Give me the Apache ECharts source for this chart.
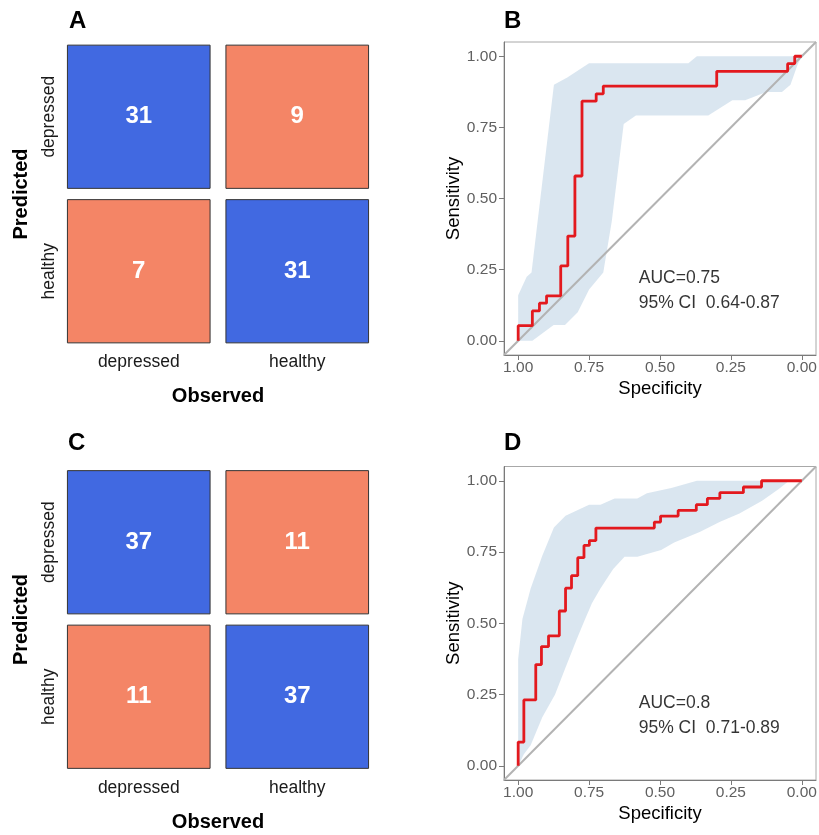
<!DOCTYPE html>
<html>
<head>
<meta charset="utf-8">
<script src="https://cdn.jsdelivr.net/npm/echarts@6/dist/echarts.min.js"></script>
<style>
html,body{margin:0;padding:0;background:#fff;}
#chart{width:819px;height:835px;}
</style>
</head>
<body>
<div id="chart"></div>
<script>
// ---------- data ----------
const classes = ['depressed', 'healthy'];
// [observedIndex, predictedIndex, count]
const cmA = [[0, 0, 31], [1, 0, 9], [0, 1, 7], [1, 1, 31]];
const cmC = [[0, 0, 37], [1, 0, 11], [0, 1, 11], [1, 1, 37]];

const rocTicks = [0, 0.25, 0.5, 0.75, 1];

// ROC step points [specificity, sensitivity]
const rocB = [[1, 0], [1, 0.053], [0.95, 0.105], [0.925, 0.132], [0.9, 0.158], [0.85, 0.263],
  [0.825, 0.368], [0.8, 0.579], [0.775, 0.842], [0.725, 0.868], [0.7, 0.895], [0.3, 0.947],
  [0.05, 0.974], [0.025, 1.0], [0, 1.0]];
const ciUpperB = [[1, 0.16], [0.97, 0.225], [0.953, 0.24], [0.874, 0.9], [0.827, 0.925],
  [0.75, 0.975], [0.4, 0.975], [0.37, 1.0], [0, 1.0]];
const ciLowerB = [[1, 0], [0.95, 0], [0.875, 0.055], [0.835, 0.055], [0.79, 0.10], [0.75, 0.18],
  [0.70, 0.24], [0.67, 0.42], [0.628, 0.762], [0.585, 0.792], [0.33, 0.792], [0.245, 0.845],
  [0.2, 0.845], [0.125, 0.874], [0.07, 0.874], [0.04, 0.9], [0.015, 0.97], [0, 1]];

const rocD = [[1, 0], [1, 0.083], [0.98, 0.231], [0.938, 0.355], [0.918, 0.418], [0.893, 0.456],
  [0.855, 0.543], [0.833, 0.623], [0.812, 0.667], [0.79, 0.73], [0.768, 0.773], [0.749, 0.79],
  [0.726, 0.834], [0.52, 0.855], [0.498, 0.876], [0.436, 0.896], [0.372, 0.916], [0.333, 0.938],
  [0.289, 0.958], [0.206, 0.978], [0.142, 1.0], [0, 1.0]];
const ciUpperD = [[1, 0.375], [0.985, 0.515], [0.956, 0.622], [0.915, 0.737], [0.874, 0.836],
  [0.833, 0.877], [0.75, 0.916], [0.71, 0.916], [0.66, 0.938], [0.58, 0.938], [0.546, 0.956],
  [0.46, 0.975], [0.37, 1.0], [0, 1.0]];
const ciLowerD = [[1, 0], [0.98, 0.04], [0.956, 0.072], [0.915, 0.17], [0.87, 0.25], [0.833, 0.345],
  [0.795, 0.44], [0.768, 0.505], [0.74, 0.57], [0.71, 0.622], [0.665, 0.69], [0.625, 0.733],
  [0.58, 0.733], [0.496, 0.757], [0.45, 0.783], [0.36, 0.82], [0.29, 0.855], [0.22, 0.885],
  [0.14, 0.93], [0.08, 0.972], [0.045, 1.0], [0, 1]];

const chanceLine = [[1.05, -0.05], [-0.05, 1.05]];
const aucB = ['AUC=0.75', '95% CI  0.64-0.87'];
const aucD = ['AUC=0.8', '95% CI  0.71-0.89'];
const aucPos = [[0.575, 0.221], [0.575, 0.131]];

// ---------- styling ----------
const FONT = 'Liberation Sans, Arial, sans-serif';
const BLUE = '#4169E1';
const ORANGE = '#F48566';
const RED = '#E3191E';
const BAND = 'rgba(70,130,180,0.2)';

const chart = echarts.init(document.getElementById('chart'), null, {renderer: 'canvas'});

function cmAxes(gridIndex) {
  return {
    x: {
      type: 'category', gridIndex, data: classes,
      axisLine: {show: false}, axisTick: {show: false},
      axisLabel: {color: '#1a1a1a', fontSize: 17.5, fontFamily: FONT, margin: 5},
      name: 'Observed', nameLocation: 'middle', nameGap: 38,
      nameTextStyle: {color: '#000', fontSize: 20, fontWeight: 'bold', fontFamily: FONT}
    },
    y: {
      type: 'category', gridIndex, data: classes, inverse: true,
      axisLine: {show: false}, axisTick: {show: false},
      axisLabel: {color: '#1a1a1a', fontSize: 17.5, fontFamily: FONT, rotate: 90, margin: 1},
      name: 'Predicted', nameLocation: 'middle', nameGap: 28, nameRotate: 90,
      nameTextStyle: {color: '#000', fontSize: 20, fontWeight: 'bold', fontFamily: FONT}
    }
  };
}

function rocAxes(gridIndex) {
  const lab = {color: '#606060', fontSize: 15.5, fontFamily: FONT, customValues: rocTicks,
    formatter: v => v.toFixed(2)};
  return {
    x: {
      type: 'value', gridIndex, min: -0.05, max: 1.05, inverse: true,
      splitLine: {show: false},
      axisLine: {show: true, onZero: false, lineStyle: {color: '#7a7a7a', width: 1}},
      axisTick: {show: true, length: 5, customValues: rocTicks, lineStyle: {color: '#7a7a7a'}},
      axisLabel: Object.assign({margin: 5}, lab),
      name: 'Specificity', nameLocation: 'middle', nameGap: 24,
      nameTextStyle: {color: '#000', fontSize: 18.5, fontFamily: FONT}
    },
    y: {
      type: 'value', gridIndex, min: -0.05, max: 1.05,
      splitLine: {show: false},
      axisLine: {show: true, onZero: false, lineStyle: {color: '#7a7a7a', width: 1}},
      axisTick: {show: true, length: 5, customValues: rocTicks, lineStyle: {color: '#7a7a7a'}},
      axisLabel: Object.assign({margin: 7}, lab),
      name: 'Sensitivity', nameLocation: 'middle', nameGap: 40,
      nameTextStyle: {color: '#000', fontSize: 18.5, fontFamily: FONT}
    }
  };
}

const axA = cmAxes(0), axB = rocAxes(1), axC = cmAxes(2), axD = rocAxes(3);

function tileSeries(data, idx) {
  return {
    type: 'custom', xAxisIndex: idx, yAxisIndex: idx, data,
    renderItem(params, api) {
      const c = api.coord([api.value(0), api.value(1)]);
      const s = api.size([1, 1]);
      const w = s[0] * 0.9, h = s[1] * 0.927;
      const correct = api.value(0) === api.value(1);
      return {
        type: 'group',
        children: [
          {type: 'rect', shape: {x: c[0] - w / 2, y: c[1] - h / 2, width: w, height: h},
            style: {fill: correct ? BLUE : ORANGE, stroke: '#333', lineWidth: 1}},
          {type: 'text', style: {text: String(api.value(2)), x: c[0], y: c[1],
            align: 'center', verticalAlign: 'middle', fill: '#fff',
            font: 'bold 24px ' + FONT}}
        ]
      };
    }
  };
}

function bandSeries(upper, lower, idx) {
  return {
    type: 'custom', xAxisIndex: idx, yAxisIndex: idx, data: [[0, 0]], silent: true, z: 1,
    renderItem(params, api) {
      const pts = upper.concat(lower.slice().reverse()).map(p => api.coord(p));
      return {type: 'polygon', shape: {points: pts}, style: {fill: BAND}};
    }
  };
}

function rocSeries(roc, upper, lower, auc, idx) {
  return [
    bandSeries(upper, lower, idx),
    {type: 'line', xAxisIndex: idx, yAxisIndex: idx, data: chanceLine, symbol: 'none', z: 2,
      lineStyle: {color: '#b3b3b3', width: 2}, silent: true},
    {type: 'line', xAxisIndex: idx, yAxisIndex: idx, data: roc, step: 'end', symbol: 'none', z: 3,
      lineStyle: {color: RED, width: 2.8}, silent: true},
    {type: 'scatter', xAxisIndex: idx, yAxisIndex: idx, symbolSize: 0, z: 4, silent: true,
      data: aucPos.map((p, i) => ({value: p, name: auc[i]})),
      label: {show: true, position: 'right', distance: 0, formatter: p => p.name,
        color: '#000', fontSize: 17.5, fontFamily: FONT}}
  ];
}

const option = {
  animation: false,
  backgroundColor: '#fff',
  grid: [
    {left: 59.5, top: 39.5, width: 317, height: 309, outerBoundsMode: 'none'},
    {left: 504, top: 42, width: 312, height: 313, show: true, borderColor: '#a8a8a8', borderWidth: 1, backgroundColor: 'transparent', outerBoundsMode: 'none'},
    {left: 59.5, top: 465, width: 317, height: 309, outerBoundsMode: 'none'},
    {left: 504, top: 466.5, width: 312, height: 313.5, show: true, borderColor: '#a8a8a8', borderWidth: 1, backgroundColor: 'transparent', outerBoundsMode: 'none'}
  ],
  xAxis: [axA.x, axB.x, axC.x, axD.x],
  yAxis: [axA.y, axB.y, axC.y, axD.y],
  graphic: [
    {type: 'text', left: 69, top: 9, style: {text: 'A', font: 'bold 24px ' + FONT, fill: '#000'}},
    {type: 'text', left: 504, top: 9, style: {text: 'B', font: 'bold 24px ' + FONT, fill: '#000'}},
    {type: 'text', left: 68, top: 431, style: {text: 'C', font: 'bold 24px ' + FONT, fill: '#000'}},
    {type: 'text', left: 504, top: 431, style: {text: 'D', font: 'bold 24px ' + FONT, fill: '#000'}}
  ],
  series: [
    tileSeries(cmA, 0),
    ...rocSeries(rocB, ciUpperB, ciLowerB, aucB, 1),
    tileSeries(cmC, 2),
    ...rocSeries(rocD, ciUpperD, ciLowerD, aucD, 3)
  ]
};
chart.setOption(option);
</script>
</body>
</html>
